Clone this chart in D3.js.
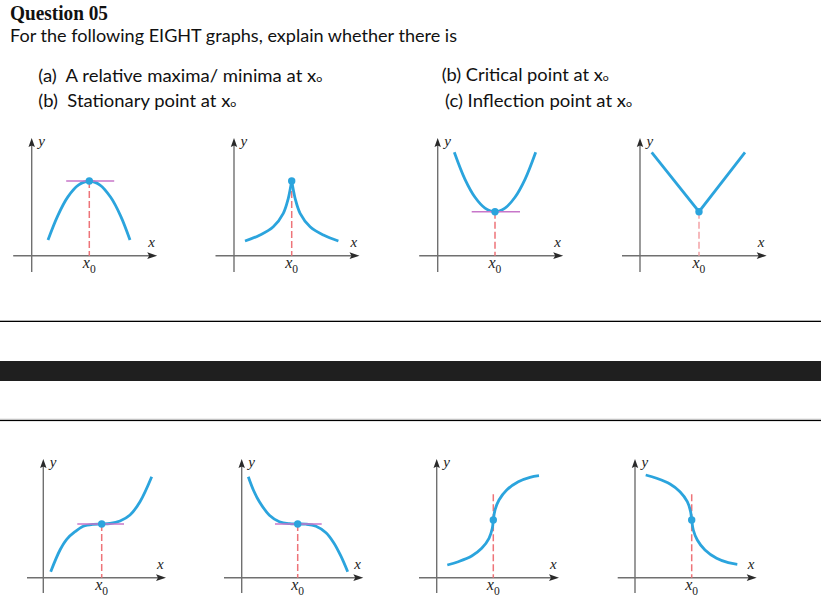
<!DOCTYPE html>
<html><head><meta charset="utf-8">
<script src="https://cdn.jsdelivr.net/npm/d3@7"></script>
<style>body{margin:0;background:#fff}svg{display:block}</style>
</head><body>
<svg id="c" width="821" height="607"></svg>
<script>
// ---------------- DATA (units of the local graph) ----------------
const titleText = "Question 05";
const introText = "For the following EIGHT graphs, explain whether there is";
const itemsLeft = ["(a)  A relative maxima/ minima at x", "(b)  Stationary point at x"];
const itemsRight = ["(b) Critical point at x", "(c) Inflection point at x"];

const curve1 = [[1.63,1.57],[2.6,3.99],[3.6,5.86],[4.7,7.08],[5.76,7.47],[6.8,7.09],[7.9,5.84],[8.9,3.96],[9.83,1.57]];
const curve2a = [[1.1,1.47],[2.6,2.07],[3.93,2.9],[4.93,4.24],[5.43,5.74],[5.6,6.55],[5.77,7.47]];
const curve2b = [[5.77,7.47],[5.94,6.55],[6.11,5.74],[6.61,4.24],[7.61,2.9],[8.94,2.07],[10.44,1.47]];
const curve3 = [[1.66,10.34],[2.73,7.63],[3.73,5.84],[4.73,4.76],[5.73,4.4],[6.73,4.76],[7.73,5.84],[8.73,7.63],[9.8,10.34]];
const curve4 = [[1.17,10.34],[5.9,4.4],[10.5,10.34]];
const curve5 = [[0.74,0.6],[1.67,2.77],[2.34,3.84],[3.17,4.6],[4.0,5.14],[5.0,5.34],[5.84,5.37],[6.67,5.42],[7.67,5.67],[8.67,6.27],[9.67,7.6],[10.84,10.1]];
const curve6 = [[0.66,10.1],[1.2,8.7],[1.77,7.6],[2.77,6.25],[3.77,5.6],[4.77,5.4],[5.6,5.37],[6.43,5.35],[7.43,5.15],[8.43,4.5],[9.2,3.5],[9.9,2.2],[10.6,0.6]];
const curve7 = [[1.06,1.27],[2.16,1.6],[3.5,2.17],[4.5,2.94],[5.23,3.94],[5.56,4.94],[5.66,5.77],[5.83,6.77],[6.23,7.77],[7.0,8.77],[8.16,9.6],[9.33,10.04],[10.23,10.2]];
const curve8 = [[1.07,10.27],[2.16,9.94],[3.5,9.37],[4.5,8.6],[5.23,7.6],[5.56,6.6],[5.67,5.77],[5.83,4.77],[6.23,3.77],[7.0,2.77],[8.16,1.94],[9.33,1.5],[10.23,1.34]];

const keyPoints = [[5.76,7.47],[5.77,7.47],[5.73,4.4],[5.9,4.4],[5.84,5.37],[5.6,5.37],[5.66,5.77],[5.67,5.77]];
const tangents = [[3.45,8.25],null,[3.4,8.23],null,[3.4,8.07],[3.33,8.0],null,null];
const dropTop = [null,null,null,null,null,null,8.34,8.34]; // null = from the key point
const curves = [[curve1],[curve2a,curve2b],[curve3],[curve4],[curve5],[curve6],[curve7],[curve8]];
const curveSmooth = [true,true,true,false,true,true,true,true];

// ---------------- LAYOUT ----------------
const PX = 10; // pixels per unit
const origins = [[31.7,255.7],[234,255.7],[437.7,255.7],[640,255.7],[43.3,577.7],[241.7,577.7],[436.7,577.7],[635,577.7]];
const xExt = [[-1.85,12.55],[-1.85,12.55],[-1.85,12.55],[-1.8,12.67],[-1.63,12.27],[-1.77,12.16],[-1.77,12.23],[-1.73,12.17]];
const yExt = [[-1.63,11.77],[-1.63,11.77],[-1.63,11.77],[-1.63,11.77],[-1.53,11.87],[-1.53,11.87],[-1.53,11.87],[-1.53,11.87]];

const BLUE = "#2ba4dd", MAG = "#c776c9", RED = "#ee7479", AX = "#707070", ARR = "#2a2a2a";
const svg = d3.select("#c");

// ---------------- HEADER ----------------
svg.append("text").attr("x",10).attr("y",19.5).attr("font-family","'Liberation Serif',serif")
  .attr("font-weight","bold").attr("font-size",20).attr("textLength",98).attr("lengthAdjust","spacingAndGlyphs")
  .attr("fill","#111").text(titleText);
svg.append("text").attr("x",10).attr("y",41.7).attr("font-family","Lato,'Open Sans',sans-serif")
  .attr("font-size",17.5).attr("textLength",447).attr("lengthAdjust","spacingAndGlyphs")
  .attr("fill","#111").text(introText);

function item(x,y,len,str){
  const t = svg.append("text").attr("x",x).attr("y",y).attr("font-family","Lato,'Open Sans',sans-serif")
    .attr("font-size",17.5).attr("fill","#111").attr("textLength",len).attr("lengthAdjust","spacingAndGlyphs");
  t.append("tspan").attr("xml:space","preserve").text(str);
  t.append("tspan").attr("font-size",10).text("o");
}
item(38.3,81.7,284,itemsLeft[0]);
item(38.3,107,198,itemsLeft[1]);
item(441.7,81.3,167,itemsRight[0]);
item(445,107,187,itemsRight[1]);

// ---------------- RULES ----------------
svg.append("rect").attr("x",0).attr("y",320.7).attr("width",821).attr("height",1.3).attr("fill","#000");
svg.append("rect").attr("x",0).attr("y",361).attr("width",821).attr("height",20).attr("fill","#1f1f1f");
svg.append("rect").attr("x",0).attr("y",418.7).attr("width",821).attr("height",1).attr("fill","#c8c8c8");
svg.append("rect").attr("x",0).attr("y",419.9).attr("width",821).attr("height",1.2).attr("fill","#000");

// ---------------- PANELS ----------------
origins.forEach((o,i)=>{
  const x = d3.scaleLinear().domain([0,1]).range([o[0],o[0]+PX]);
  const y = d3.scaleLinear().domain([0,1]).range([o[1],o[1]-PX]);
  const g = svg.append("g");
  const [x0,x1] = xExt[i], [y0,y1] = yExt[i];
  // axes
  g.append("line").attr("x1",x(x0)).attr("x2",x(x1)-6).attr("y1",y(0)).attr("y2",y(0)).attr("stroke",AX).attr("stroke-width",1.4);
  g.append("line").attr("x1",x(0)).attr("x2",x(0)).attr("y1",y(y0)).attr("y2",y(y1)+6).attr("stroke",AX).attr("stroke-width",1.4);
  g.append("path").attr("d",`M${x(x1)},${y(0)} L${x(x1)-10},${y(0)-3.4} L${x(x1)-8},${y(0)} L${x(x1)-10},${y(0)+3.4} Z`).attr("fill",ARR);
  g.append("path").attr("d",`M${x(0)},${y(y1)} L${x(0)-3.2},${y(y1)+9} L${x(0)},${y(y1)+7.5} L${x(0)+3.2},${y(y1)+9} Z`).attr("fill",ARR);
  g.append("text").attr("x",x(0)+6.5).attr("y",y(y1)+7.5).attr("font-family","'Liberation Serif',serif")
    .attr("font-style","italic").attr("font-size",15).attr("fill","#222").text("y");
  g.append("text").attr("x",x(x1)-9).attr("y",y(0)-8.5).attr("font-family","'Liberation Serif',serif")
    .attr("font-style","italic").attr("font-size",15).attr("fill","#222").text("x");
  const kp = keyPoints[i];
  // x0 label
  const lab = g.append("text").attr("x",x(kp[0])-6.5).attr("y",y(0)+12.6).attr("font-family","'Liberation Serif',serif")
    .attr("font-size",16).attr("fill","#222");
  lab.append("tspan").attr("font-style","italic").text("x");
  lab.append("tspan").attr("font-size",11.5).attr("dy",5).text("0");
  // dashed drop line
  const top = dropTop[i]===null ? kp[1] : dropTop[i];
  g.append("line").attr("x1",x(kp[0])).attr("x2",x(kp[0])).attr("y1",y(top)).attr("y2",y(0))
    .attr("stroke", i===3 ? "#f3a3a6" : RED).attr("stroke-width",1.5).attr("stroke-dasharray","7,3");
  // curves
  const line = d3.line().x(d=>x(d[0])).y(d=>y(d[1]))
    .curve(curveSmooth[i] ? d3.curveCatmullRom.alpha(0.5) : d3.curveLinear);
  curves[i].forEach(c=>{
    g.append("path").attr("d",line(c)).attr("fill","none").attr("stroke",BLUE)
      .attr("stroke-width",2.8).attr("stroke-linecap","butt").attr("stroke-linejoin","miter");
  });
  // tangent
  if (tangents[i]) {
    g.append("line").attr("x1",x(tangents[i][0])).attr("x2",x(tangents[i][1])).attr("y1",y(kp[1])).attr("y2",y(kp[1]))
      .attr("stroke",MAG).attr("stroke-width",1.5);
  }
  g.append("circle").attr("cx",x(kp[0])).attr("cy",y(kp[1])).attr("r",3.7).attr("fill",BLUE);
});
</script>
</body></html>
